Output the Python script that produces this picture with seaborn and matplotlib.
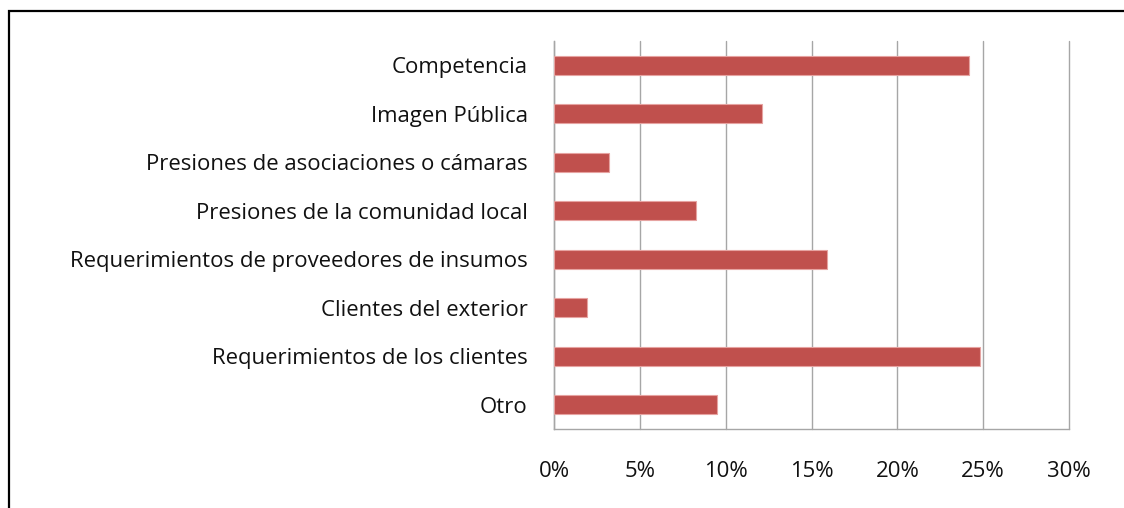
import matplotlib
matplotlib.use("Agg")
import matplotlib.pyplot as plt
import seaborn as sns
import pandas as pd
from matplotlib.patches import Rectangle
from matplotlib.ticker import FuncFormatter

categories = [
    "Competencia",
    "Imagen Pública",
    "Presiones de asociaciones o cámaras",
    "Presiones de la comunidad local",
    "Requerimientos de proveedores de insumos",
    "Clientes del exterior",
    "Requerimientos de los clientes",
    "Otro",
]
values = [24.2, 12.1, 3.2, 8.3, 15.9, 1.9, 24.8, 9.5]
xticks = [0, 5, 10, 15, 20, 25, 30]

sns.set_theme(style="white")
plt.rcParams["font.family"] = ["Open Sans", "DejaVu Sans"]

df = pd.DataFrame({"cat": categories, "val": values})

fig = plt.figure(figsize=(11.24, 5.08), dpi=100)
ax = fig.add_axes([554 / 1124, 1 - 429 / 508, (1069 - 554) / 1124, (429 - 41) / 508])

sns.barplot(data=df, x="val", y="cat", orient="h", color="#C0504D",
            saturation=1, width=0.4, edgecolor="#E6A3A1", linewidth=0.8, ax=ax, zorder=3)

ax.set_xlim(0, 30)
ax.set_ylim(7.5, -0.5)
ax.set_xticks(xticks)
ax.xaxis.set_major_formatter(FuncFormatter(lambda v, p: f"{int(v)}%"))
ax.grid(axis="x", color="#A6A6A6", linewidth=1.0, zorder=0)
ax.grid(axis="y", visible=False)
for gl in ax.get_xgridlines():
    gl.set_clip_on(False)
ax.set_axisbelow(True)
ax.set_xlabel("")
ax.set_ylabel("")
for s in ["top", "right"]:
    ax.spines[s].set_visible(False)
for s in ["left", "bottom"]:
    ax.spines[s].set_color("#A6A6A6")
    ax.spines[s].set_linewidth(1.0)
ax.tick_params(axis="y", length=0, pad=19, labelsize=15.9, colors="#111111")
ax.tick_params(axis="x", length=0, pad=23, labelsize=15.9, colors="#111111")

# outer frame
fig.patches.append(Rectangle((8.5 / 1124, -0.1), 1.2, 1 - 11.5 / 508 + 0.1,
                             transform=fig.transFigure, fill=False,
                             edgecolor="black", linewidth=1.6))

fig.savefig("out.png", dpi=100)
